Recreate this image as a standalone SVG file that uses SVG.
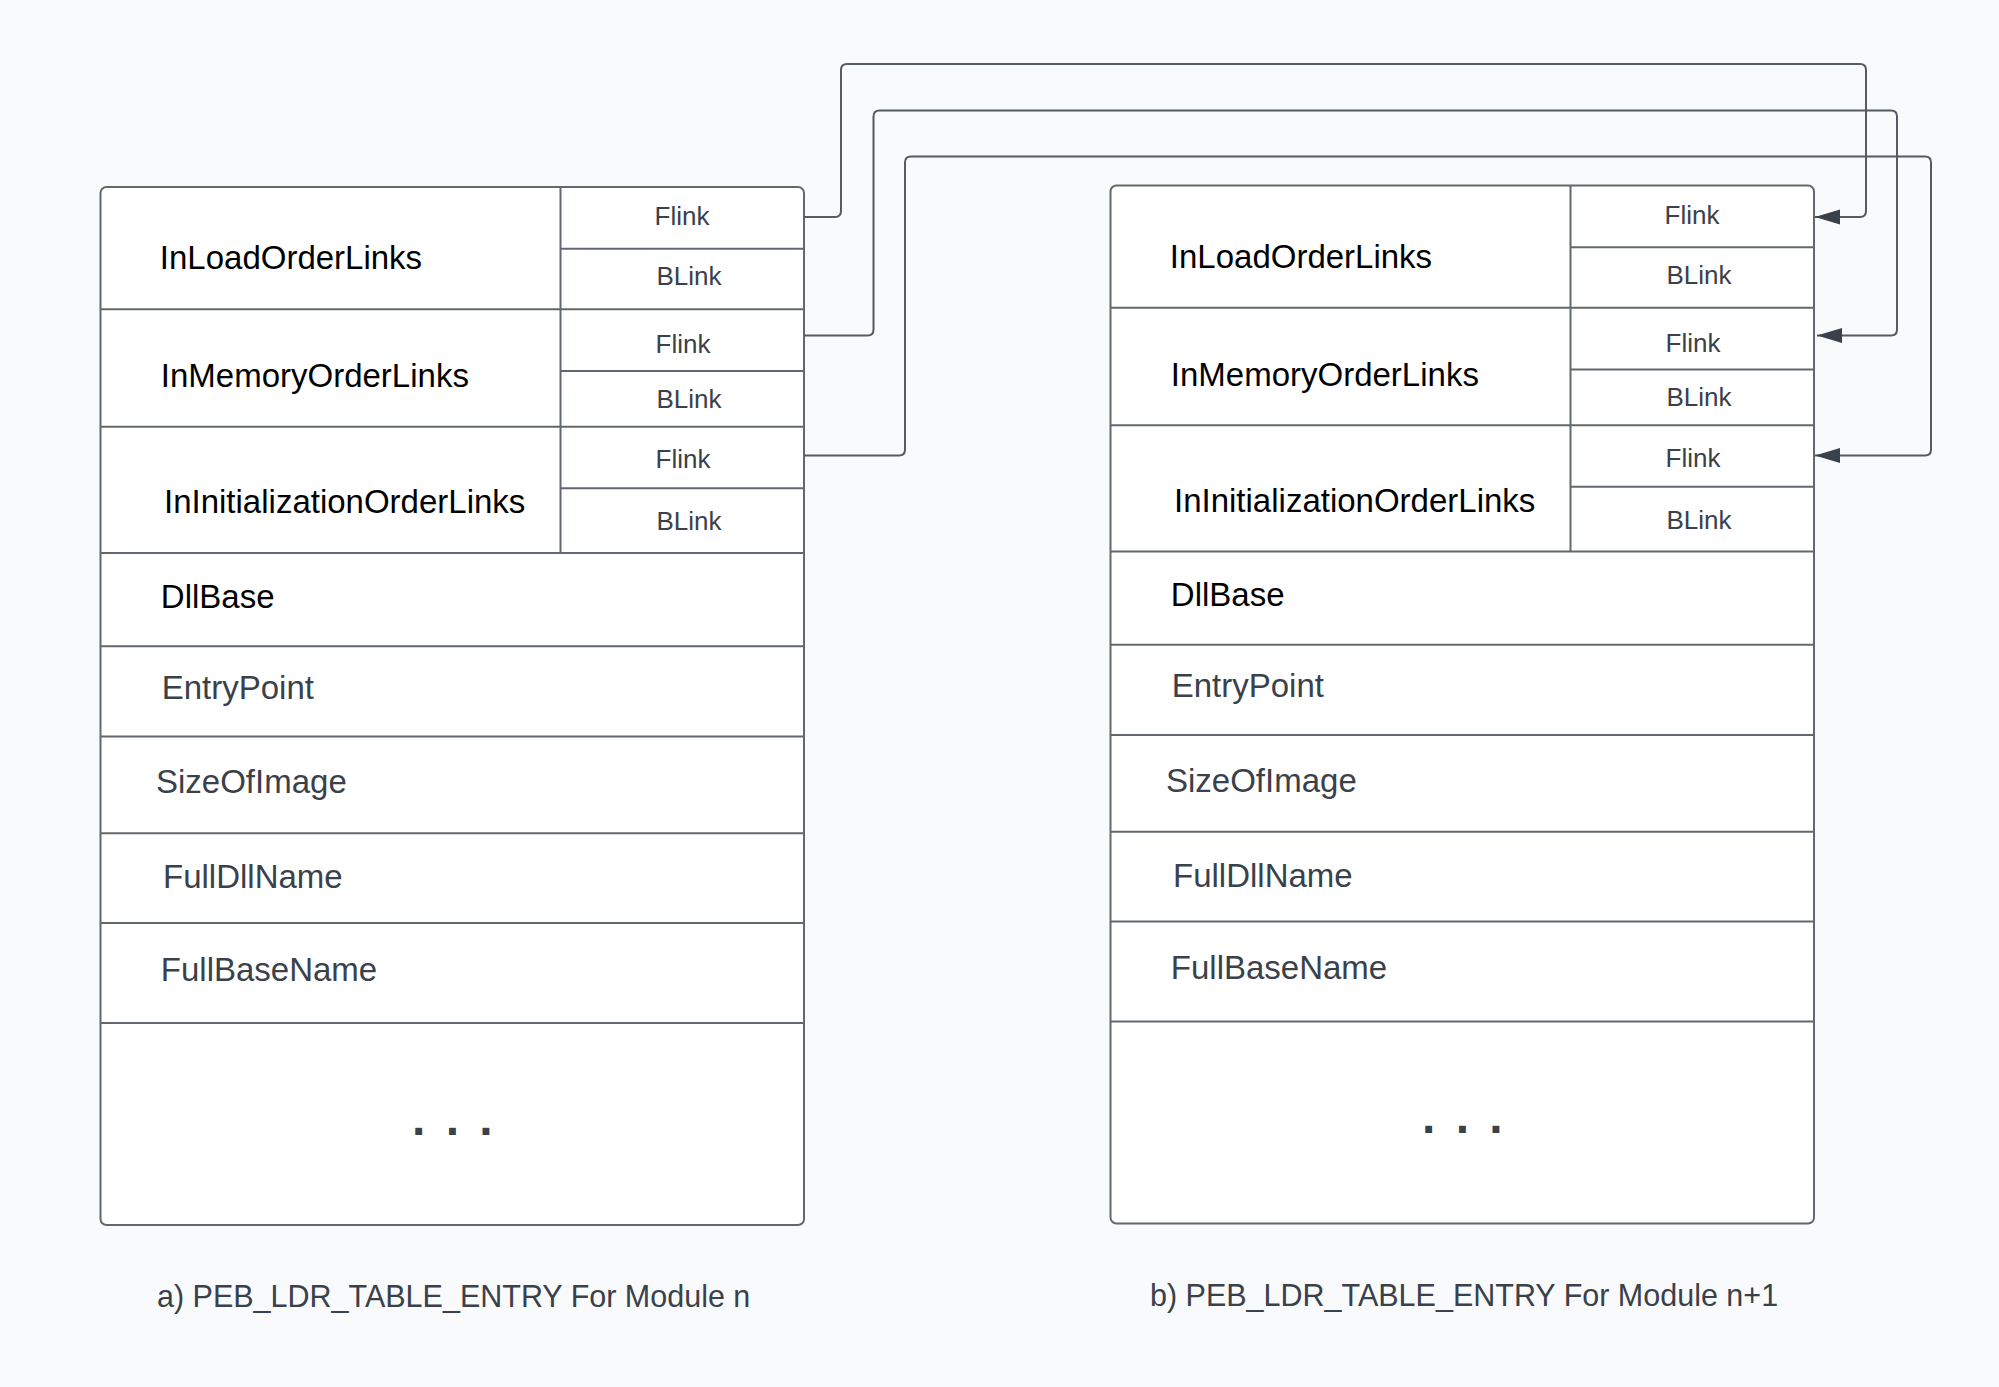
<svg xmlns="http://www.w3.org/2000/svg" width="1999" height="1387" viewBox="0 0 1999 1387">
<style>
.bg{fill:#f9fafc}
.box{fill:#ffffff;stroke:#62686f;stroke-width:2}
.ln{stroke:#62686f;stroke-width:2;fill:none}
.con{stroke:#555b63;stroke-width:2;fill:none}
text{font-family:"Liberation Sans",Arial,sans-serif}
.big{font-size:33px;fill:#000000}
.fld{font-size:33px;fill:#3a414a}
.lk{font-size:26px;fill:#3a414a;text-anchor:middle}
.cap{font-size:30.5px;fill:#3a414a}
.dots{font-size:48px;font-weight:bold;fill:#3a414a;letter-spacing:3.5px}
</style>
<defs>
<marker id="arr" markerUnits="userSpaceOnUse" markerWidth="25" markerHeight="16" refX="25" refY="8" orient="auto">
<path d="M0,0.5 L25,8 L0,15.5 Z" fill="#3a414a"/>
</marker>
<g id="entry">
<rect class="box" x="0" y="0" width="703.5" height="1038" rx="6" ry="6"/>
<line class="ln" x1="460" y1="0" x2="460" y2="366"/>
<line class="ln" x1="460" y1="61.7" x2="703.5" y2="61.7"/>
<line class="ln" x1="0" y1="122.3" x2="703.5" y2="122.3"/>
<line class="ln" x1="460" y1="184" x2="703.5" y2="184"/>
<line class="ln" x1="0" y1="239.7" x2="703.5" y2="239.7"/>
<line class="ln" x1="460" y1="301.3" x2="703.5" y2="301.3"/>
<line class="ln" x1="0" y1="366" x2="703.5" y2="366"/>
<line class="ln" x1="0" y1="459.3" x2="703.5" y2="459.3"/>
<line class="ln" x1="0" y1="549.4" x2="703.5" y2="549.4"/>
<line class="ln" x1="0" y1="646.3" x2="703.5" y2="646.3"/>
<line class="ln" x1="0" y1="736" x2="703.5" y2="736"/>
<line class="ln" x1="0" y1="836" x2="703.5" y2="836"/>
<text class="big" x="59.3" y="82">InLoadOrderLinks</text>
<text class="big" x="60.3" y="200.3">InMemoryOrderLinks</text>
<text class="big" x="63.5" y="326.3">InInitializationOrderLinks</text>
<text class="big" x="60.3" y="420.9">DllBase</text>
<text class="fld" x="61.2" y="511.5">EntryPoint</text>
<text class="fld" x="55.5" y="606">SizeOfImage</text>
<text class="fld" x="62.5" y="701.2">FullDllName</text>
<text class="fld" x="60.3" y="793.6">FullBaseName</text>
<text class="lk" x="581.5" y="38">Flink</text>
<text class="lk" x="588.5" y="98">BLink</text>
<text class="lk" x="582.5" y="166.3">Flink</text>
<text class="lk" x="588.5" y="220.7">BLink</text>
<text class="lk" x="582.5" y="281.3">Flink</text>
<text class="lk" x="588.5" y="343">BLink</text>
<text class="dots" x="311.5" y="947.7">. . .</text>
</g>
</defs>
<rect class="bg" x="0" y="0" width="1999" height="1387"/>
<g id="module-n">
<use href="#entry" x="100.5" y="187"/>
</g>
<g id="module-n1">
<use href="#entry" x="1110.5" y="185.5"/>
</g>
<g id="connectors">
<path class="con" marker-end="url(#arr)" d="M804,217 H835 Q841,217 841,211 V70 Q841,64 847,64 H1860 Q1866,64 1866,70 V211 Q1866,217 1860,217 H1815"/>
<path class="con" marker-end="url(#arr)" d="M804,335.5 H867.5 Q873.5,335.5 873.5,329.5 V116.5 Q873.5,110.5 879.5,110.5 H1891 Q1897,110.5 1897,116.5 V329.5 Q1897,335.5 1891,335.5 H1817"/>
<path class="con" marker-end="url(#arr)" d="M804,455.5 H899 Q905,455.5 905,449.5 V162.5 Q905,156.5 911,156.5 H1925 Q1931,156.5 1931,162.5 V449.5 Q1931,455.5 1925,455.5 H1815"/>
</g>
<g id="captions">
<text class="cap" x="157" y="1307">a) PEB_LDR_TABLE_ENTRY For Module n</text>
<text class="cap" x="1150" y="1306">b) PEB_LDR_TABLE_ENTRY For Module n+1</text>
</g>
</svg>
